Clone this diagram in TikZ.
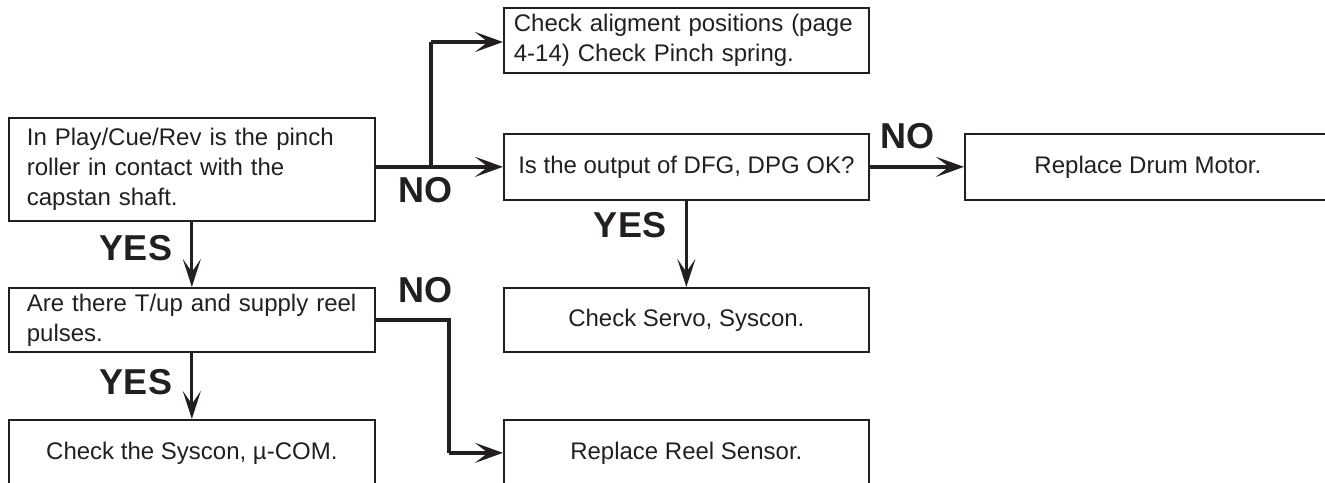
\documentclass[tikz,border=0pt]{standalone}
\usepackage{fontspec}
\setmainfont{Liberation Sans}
\usetikzlibrary{arrows.meta}
\definecolor{ink}{RGB}{35,31,32}
\tikzset{
  box/.style={draw=ink, line width=0.85pt, text=ink, inner ysep=0pt,
    font=\fontsize{12}{15}\selectfont, anchor=north west},
  lbox/.style={box, align=left, text width=165pt, inner xsep=9pt, minimum width=183pt},
  cbox/.style={box, align=center, minimum width=182.5pt},
  thickarrow/.style={draw=ink, line width=2.3pt, -{Stealth[length=14pt,width=10pt,inset=6.5pt]}},
  thinarrow/.style={draw=ink, line width=1.6pt, -{Stealth[length=14pt,width=9pt,inset=6.5pt]}},
  lab/.style={text=ink, font=\fontsize{18}{18}\selectfont\bfseries, inner sep=0pt}
}
\begin{document}
\begin{tikzpicture}[x=0.5pt, y=-0.5pt]
\useasboundingbox (0,0) rectangle (1325,482);
\clip (0,0) rectangle (1325,482);
% boxes
\node[lbox, minimum height=51.5pt] (A) at (8,117) {In Play/Cue/Rev is the pinch\\roller in contact with the\\capstan shaft.};
\node[lbox, minimum height=32pt] (B) at (8,287) {Are there T/up and supply reel\\pulses.};
\node[cbox, minimum width=183pt, minimum height=33pt] (C) at (8,419) {Check the Syscon, µ-COM.};
\node[lbox, text width=172.5pt, inner xsep=5pt, minimum width=182.5pt, minimum height=32.5pt] (D) at (503,7) {Check aligment positions (page\\4-14) Check Pinch spring.};
\node[cbox, minimum height=33pt] (E) at (503,133) {Is the output of DFG, DPG OK?};
\node[cbox, minimum width=183pt, minimum height=33pt] (F) at (964,133) {Replace Drum Motor.};
\node[cbox, minimum height=32pt] (G) at (503,287) {Check Servo, Syscon.};
\node[cbox, minimum height=33pt] (H) at (503,419) {Replace Reel Sensor.};
% connectors
\coordinate (br) at (431,166);
\coordinate (bend) at (449,320);
\path[thickarrow] (A.east |- E.west) -- (E.west);
\draw[ink, line width=2.3pt] (br) -- (431,42);
\path[thickarrow] (431,42) -- (D.west |- 431,42);
\path[thinarrow] (A.south) -- (B.north);
\path[thinarrow] (B.south) -- (C.north);
\draw[ink, line width=2.3pt] (B.east |- bend) -- (bend) -- (bend |- H.west);
\path[thickarrow] (bend |- H.west) -- (H.west);
\path[thinarrow] (E.south) -- (G.north);
\path[thickarrow] (E.east) -- (F.west);
% labels
\node[lab] (no1) at (425,190) {NO};
\node[lab] (yes1) at (136,248) {YES};
\node[lab] (yes2) at (136,382) {YES};
\node[lab] (no2) at (425,290) {NO};
\node[lab] (yes3) at (630,225) {YES};
\node[lab] (no3) at (907,136) {NO};
\end{tikzpicture}
\end{document}
